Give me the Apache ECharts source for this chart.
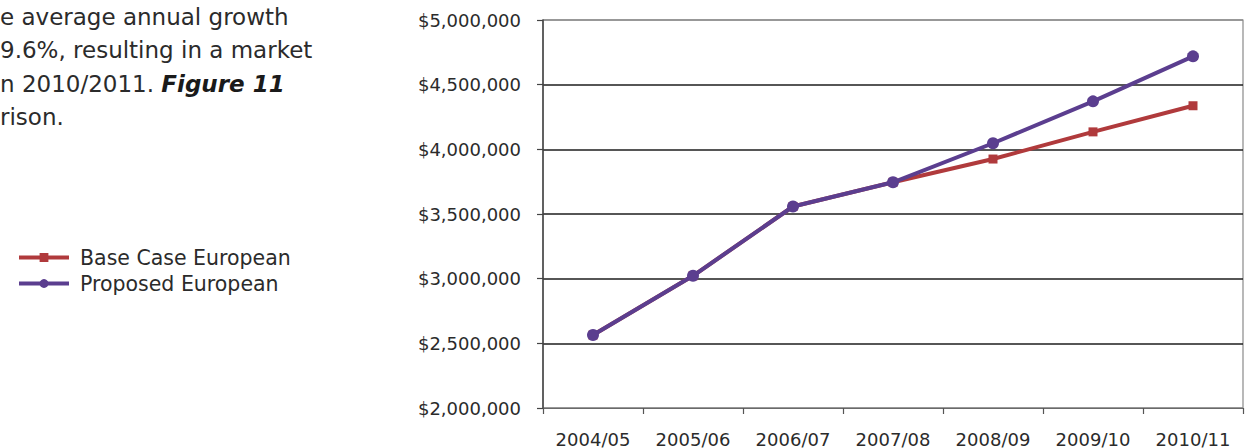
<!DOCTYPE html>
<html>
<head>
<meta charset="utf-8">
<script src="https://cdn.jsdelivr.net/npm/echarts@6/dist/echarts.min.js"></script>
<style>
  html, body { margin: 0; padding: 0; background: #fff; }
  #chart { width: 1250px; height: 448px; }
</style>
</head>
<body>
<div id="chart"></div>
<script>
// Market size by fiscal year, two scenarios
const years = ['2004/05', '2005/06', '2006/07', '2007/08', '2008/09', '2009/10', '2010/11'];
const baseCase = [2564000, 3022000, 3558000, 3745000, 3925000, 4135000, 4337000];
const proposed = [2564000, 3022000, 3558000, 3745000, 4047000, 4371000, 4719000];
const seriesNames = ['Base Case European', 'Proposed European'];

// Surrounding report paragraph (left column)
const paragraphLines = [
  [{ t: 'e average annual growth' }],
  [{ t: '9.6%, resulting in a market' }],
  [{ t: 'n 2010/2011. ' }, { t: 'Figure 11', italic: true }],
  [{ t: 'rison.' }]
];

const FONT = '"DejaVu Sans", sans-serif';
const TEXT = '#2b2b2b';
const RED = '#b03a3c';
const PURPLE = '#5b3e8f';

const fmtMoney = v => '$' + v.toLocaleString('en-US');

const graphics = paragraphLines.map((parts, i) => ({
  type: 'text',
  left: 0,
  top: 5 + i * 33.5,
  style: {
    text: parts.map(p => p.italic ? '{it|' + p.t + '}' : '{n|' + p.t + '}').join(''),
    rich: {
      n: { fontFamily: FONT, fontSize: 23, fill: TEXT },
      it: { fontFamily: FONT, fontSize: 23, fill: '#1a1a1a', fontStyle: 'italic', fontWeight: 600 }
    }
  }
}));

const chart = echarts.init(document.getElementById('chart'), null, { renderer: 'svg' });
chart.setOption({
  animation: false,
  backgroundColor: '#fff',
  graphic: graphics,
  legend: {
    orient: 'vertical',
    left: 12,
    top: 242,
    itemWidth: 50,
    itemHeight: 11,
    itemGap: 5,
    data: seriesNames,
    lineStyle: { width: 4 },
    textStyle: { fontFamily: FONT, fontSize: 20.5, color: TEXT, padding: [0, 0, 0, 6] }
  },
  grid: {
    left: 543, right: 7, top: 20, bottom: 40,
    show: true, borderColor: '#8a8a8a', borderWidth: 1.2
  },
  xAxis: {
    type: 'category',
    data: years,
    boundaryGap: true,
    axisLine: { lineStyle: { color: '#6a6a6a', width: 1.2 } },
    axisTick: { show: true, length: 6, lineStyle: { color: '#555', width: 1.2 } },
    axisLabel: { fontFamily: FONT, fontSize: 18, color: TEXT, margin: 22 },
    splitLine: { show: false }
  },
  yAxis: {
    type: 'value',
    min: 2000000,
    max: 5000000,
    interval: 500000,
    axisLine: { show: true, lineStyle: { color: '#444', width: 1.5 } },
    axisTick: { show: true, length: 6, lineStyle: { color: '#444', width: 1.2 } },
    axisLabel: { fontFamily: FONT, fontSize: 18, color: TEXT, margin: 22, formatter: fmtMoney },
    splitLine: {
      show: true,
      lineStyle: { color: ['#8a8a8a', '#1e1e1e', '#1e1e1e', '#1e1e1e', '#1e1e1e', '#1e1e1e', '#8a8a8a'], width: 1.6 }
    }
  },
  series: [
    {
      name: seriesNames[0],
      type: 'line',
      data: baseCase,
      symbol: 'rect',
      symbolSize: 9,
      lineStyle: { color: RED, width: 4 },
      itemStyle: { color: RED },
      z: 2
    },
    {
      name: seriesNames[1],
      type: 'line',
      data: proposed,
      symbol: 'circle',
      symbolSize: 12,
      lineStyle: { color: PURPLE, width: 4 },
      itemStyle: { color: PURPLE },
      z: 3
    }
  ]
});
</script>
</body>
</html>
